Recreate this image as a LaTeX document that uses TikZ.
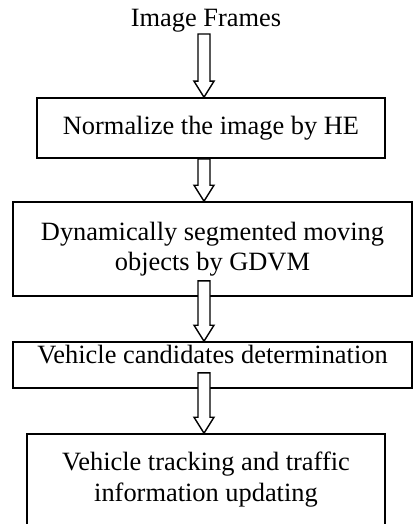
\documentclass[tikz,border=0pt]{standalone}
\usepackage{fontspec}
\setmainfont{Liberation Serif}
\usetikzlibrary{calc}
\tikzset{
  caption/.style={inner sep=0pt, font=\fontsize{26.4}{30.5}\selectfont},
  stage/.style={draw, line width=1.6pt, inner sep=0pt, align=center,
    font=\fontsize{26.4}{30.5}\selectfont},
  hollow/.style={draw, fill=white, line width=1.4pt, line join=miter},
}
% hollow block arrow from a shaft top (#1) down to a tip (#2)
\newcommand\hollowarrow[2]{%
  \draw[hollow] ($(#1)+(-6,0)$) -- ($(#2)+(-6,-16)$) -- ($(#2)+(-10,-16)$)
    -- (#2) -- ($(#2)+(10,-16)$) -- ($(#2)+(6,-16)$) -- ($(#1)+(6,0)$) -- cycle;}
\begin{document}
\begin{tikzpicture}[x=1pt,y=-1pt]
\useasboundingbox (0,0) rectangle (413,524);

\node[caption, anchor=base] (src) at (206,27) {Image Frames};
\node[stage, minimum width=348pt, minimum height=60pt] (b1) at (211,128)
  {Normalize the image by HE};
\node[stage, minimum width=399pt, minimum height=94pt] (b2) at (212.5,249)
  {Dynamically segmented moving\\objects by GDVM};
\node[stage, minimum width=399pt, minimum height=46pt,
  text height=18pt, text depth=22pt] (b3) at (212.5,365)
  {Vehicle candidates determination};
\node[stage, minimum width=358pt, minimum height=91pt] (b4) at (206,479.5)
  {Vehicle tracking and traffic\\information updating};

% shaft tops and tips of the connectors
\coordinate (s1) at (204,34);
\coordinate (t1) at (s1 |- b1.north);
\coordinate (s2) at (s1 |- b1.south);
\coordinate (t2) at (s1 |- b2.north);
\coordinate (s3) at ($(s1 |- b2.south)+(0,-16)$);
\coordinate (t3) at (s1 |- b3.north);
\coordinate (s4) at ($(s1 |- b3.south)+(0,-16)$);
\coordinate (t4) at (s1 |- b4.north);

\hollowarrow{s1}{t1}
\hollowarrow{s2}{t2}
\hollowarrow{s3}{t3}
\hollowarrow{s4}{t4}
\end{tikzpicture}
\end{document}
